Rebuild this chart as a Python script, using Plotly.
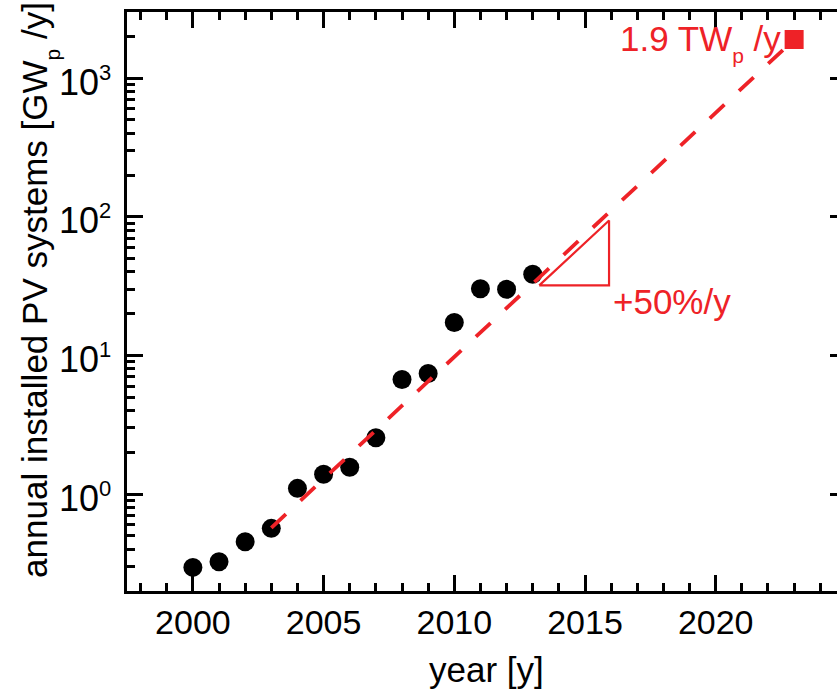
import math
import plotly.graph_objects as go

# Annual installed PV capacity, GWp per year
years = [2000, 2001, 2002, 2003, 2004, 2005, 2006, 2007, 2008, 2009, 2010, 2011, 2012, 2013]
installed_gw = [0.296, 0.325, 0.453, 0.566, 1.10, 1.39, 1.56, 2.55, 6.70, 7.41, 17.3, 30.3, 30.0, 38.5]

# +50 %/y trend from 2003 to the 2023 projection
trend_years = [2003, 2023]
trend_gw = [0.571, 1900]

# Projected point: 1.9 TWp/y in 2023
proj_year = [2023]
proj_gw = [1900]

# Slope triangle illustrating +50 %/y
slope_x = [2013.25, 2015.92, 2015.92, 2013.25]
slope_y = [32, 32, 94, 32]

x_major = [2000, 2005, 2010, 2015, 2020]
y_major = [1, 10, 100, 1000]
y_exponents = ["0", "1", "2", "3"]

RED = "#EE2227"
FONT = "Liberation Sans, Arial, sans-serif"

y_lo, y_hi = 0.2, 3000
y_minor = [m * 10 ** e for e in range(-1, 4) for m in range(2, 10) if y_lo <= m * 10 ** e <= y_hi]

fig = go.Figure()

fig.add_trace(go.Scatter(
    x=years, y=installed_gw, mode="markers",
    marker=dict(size=19, color="black", line=dict(width=0)),
    hoverinfo="x+y",
))
fig.add_trace(go.Scatter(
    x=trend_years, y=trend_gw, mode="lines",
    line=dict(color=RED, width=3.8, dash="20px,20px"),
    hoverinfo="skip",
))
fig.add_trace(go.Scatter(
    x=slope_x, y=slope_y, mode="lines",
    line=dict(color=RED, width=2.2),
    hoverinfo="skip",
))
fig.add_trace(go.Scatter(
    x=proj_year, y=proj_gw, mode="markers",
    marker=dict(symbol="square", size=19, color=RED, line=dict(width=0)),
    hoverinfo="x+y",
))
# carrier trace for the right-hand tick axis
fig.add_trace(go.Scatter(
    x=proj_year, y=proj_gw, mode="markers", yaxis="y2",
    marker=dict(opacity=0), hoverinfo="skip",
))

# low subscript "p" (peak)
SUB_P = '<sub><sub><span style="font-size:21px">p</span></sub></sub>'

fig.add_annotation(
    x=2023, y=math.log10(proj_gw[0]), xref="x", yref="y",
    text="1.9 TW" + SUB_P + " /y", showarrow=False,
    xanchor="right", yanchor="middle", xshift=-11, yshift=-3,
    font=dict(family=FONT, size=35, color=RED),
)
fig.add_annotation(
    x=slope_x[1], y=math.log10(slope_y[0]), xref="x", yref="y",
    text="+50%/y", showarrow=False,
    xanchor="left", yanchor="middle", xshift=2, yshift=-16,
    font=dict(family=FONT, size=35, color=RED),
)

# y tick labels as powers of ten
for v, e in zip(y_major, y_exponents):
    fig.add_annotation(
        x=0, y=math.log10(v), xref="paper", yref="y",
        text='10<sup><span style="font-size:22px">' + e + '</span></sup>',
        showarrow=False, xanchor="right", yanchor="middle", xshift=-14, yshift=-3,
        font=dict(family=FONT, size=36, color="black"),
    )

# axis titles
fig.add_annotation(
    x=0, y=0.52, xref="paper", yref="paper",
    text="annual installed PV systems [GW" + SUB_P + " /y]", showarrow=False,
    textangle=-90, xanchor="center", yanchor="middle", xshift=-88,
    font=dict(family=FONT, size=35, color="black"),
)
fig.add_annotation(
    x=0.5066, y=0, xref="paper", yref="paper",
    text="year [y]", showarrow=False,
    xanchor="center", yanchor="bottom", yshift=-100,
    font=dict(family=FONT, size=35, color="black"),
)

fig.update_layout(
    width=837, height=693,
    margin=dict(l=127, r=0, t=12, b=102),
    plot_bgcolor="white", paper_bgcolor="white",
    showlegend=False,
    font=dict(family=FONT, color="black"),
    xaxis=dict(
        range=[1997.48, 2024.64],
        showline=True, linewidth=2.5, linecolor="black", mirror="ticks",
        ticks="inside", ticklen=16, tickwidth=2.5, tickcolor="black",
        tickmode="array", tickvals=x_major,
        tickfont=dict(family=FONT, size=34, color="black"),
        ticklabelstandoff=-1,
        showgrid=False, zeroline=False,
        minor=dict(ticks="inside", ticklen=8, tickwidth=2.5, tickcolor="black",
                   tick0=2000, dtick=1, showgrid=False),
    ),
    yaxis=dict(
        type="log", range=[math.log10(y_lo), math.log10(y_hi)],
        showline=True, linewidth=2.5, linecolor="black", mirror=False,
        ticks="inside", ticklen=16, tickwidth=2.5, tickcolor="black",
        tickmode="array", tickvals=y_major, showticklabels=False,
        showgrid=False, zeroline=False,
        minor=dict(ticks="inside", ticklen=8, tickwidth=2.5, tickcolor="black",
                   tickmode="array", tickvals=y_minor, showgrid=False),
    ),
    yaxis2=dict(
        type="log", range=[math.log10(y_lo), math.log10(y_hi)],
        overlaying="y", side="right", showline=False,
        ticks="inside", ticklen=7, tickwidth=2.5, tickcolor="black",
        tickmode="array", tickvals=y_major, showticklabels=False,
        showgrid=False, zeroline=False,
    ),
)

fig.write_html("out.html")
